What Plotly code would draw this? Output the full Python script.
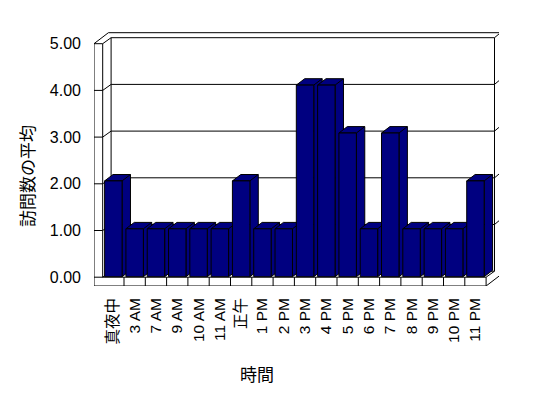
import plotly.graph_objects as go

# ---- data ----
categories = ["真夜中", "3 AM", "7 AM", "9 AM", "10 AM", "11 AM", "正午", "1 PM", "2 PM",
              "3 PM", "4 PM", "5 PM", "6 PM", "7 PM", "8 PM", "9 PM", "10 PM", "11 PM"]
values = [2, 1, 1, 1, 1, 1, 2, 1, 1, 4, 4, 3, 1, 3, 1, 1, 1, 2]
y_tick_values = [0, 1, 2, 3, 4, 5]
y_tick_labels = ["0.00", "1.00", "2.00", "3.00", "4.00", "5.00"]
x_title = "時間"
y_title = "訪問数の平均"

# ---- geometry (pixels, page coordinates) ----
PAGE_PAD = 8                      # default body margin of the html page
W, H = 548 - PAGE_PAD, 398 - PAGE_PAD
PL, PR, PT, PB = 94, 499, 32, 286  # plot area on the page
ML, MT = PL - PAGE_PAD, PT - PAGE_PAD
MR = W - (PR - PAGE_PAD)
MB = H - (PB - PAGE_PAD)
X_UNIT, X0_PX = 21.3, 113.35          # px per category, centre of first category
Y_UNIT, Y0_PX = 46.7, 277.2           # wall scale
BY_UNIT, BY0_PX = 47.9, 276.7         # bar scale (perspective of Excel 3-D)
n = len(categories)
idx = list(range(n))

x_range = [(PL - X0_PX) / X_UNIT, (PR - X0_PX) / X_UNIT]
y_range = [(Y0_PX - PB) / Y_UNIT, (Y0_PX - PT) / Y_UNIT]
y2_range = [(BY0_PX - PB) / BY_UNIT, (BY0_PX - PT) / BY_UNIT]

DX, DY = 8.4 / X_UNIT, 6.0 / Y_UNIT   # depth of the floor
TX, TY = 6.0 / X_UNIT, 5.0 / Y_UNIT   # thickness of back wall
BDX, BDY = 8.4 / X_UNIT, 6.4 / BY_UNIT
BAR_W = 0.82
YMAX = y_tick_values[-1]

XL_OUT = x_range[0]
XL_IN = -0.5
XR = n - 0.5
FB = y_range[0]

NAVY = "#000080"
FONT = "Liberation Sans, Arial, Noto Sans CJK JP, sans-serif"

shapes = []


def seg(x0, y0, x1, y1):
    shapes.append(dict(type="line", xref="x", yref="y", x0=x0, y0=y0, x1=x1, y1=y1,
                       line=dict(color="black", width=1), layer="below"))


# back wall face
shapes.append(dict(type="rect", xref="x", yref="y", x0=XL_IN + DX, y0=DY, x1=XR + DX, y1=YMAX + DY,
                   line=dict(color="black", width=1), fillcolor="white", layer="below"))
# left wall
seg(XL_OUT, FB, XL_OUT, YMAX)
seg(XL_IN, 0, XL_IN, YMAX)
seg(XL_OUT, YMAX, XL_IN, YMAX)
seg(XL_IN, YMAX, XL_IN + DX, YMAX + DY)
seg(XL_OUT, YMAX, XL_OUT + DX + TX, YMAX + DY + TY)
# top / right thickness of back wall
seg(XL_OUT + DX + TX, YMAX + DY + TY, XR + DX + TX, YMAX + DY + TY)
seg(XR + DX, YMAX + DY, XR + DX + TX, YMAX + DY + TY)
seg(XR + DX + TX, YMAX + DY + TY, XR + DX + TX, FB + DY + TY)
# floor
shapes.append(dict(type="rect", xref="x", yref="y", x0=XL_OUT, y0=FB, x1=XR, y1=0,
                   line=dict(color="black", width=1), fillcolor="white", layer="below"))
seg(XR, 0, XR + DX, DY)
seg(XR, FB, XR + DX + TX, FB + DY + TY)
# gridlines
for v in y_tick_values[1:-1]:
    seg(XL_IN + DX, v + DY, XR + DX, v + DY)
    seg(XL_OUT, v, XL_IN, v)
    seg(XR + DX, v + DY, XR + DX + TX, v + DY + TY)
for v in y_tick_values[:-1]:
    seg(XL_IN, v, XL_IN + DX, v + DY)
# category separators on floor front
for i in idx[:-1]:
    seg(i + 0.5, FB, i + 0.5, 0)

fig = go.Figure()

# side + top faces of the bars
for i, v in zip(idx, values):
    xl, xr = i - BAR_W / 2, i + BAR_W / 2
    xs = [xl, xl + BDX, xr + BDX, xr + BDX, xr, xr, xl, None, xr, xr + BDX]
    ys = [v, v + BDY, v + BDY, BDY, 0, v, v, None, v, v + BDY]
    fig.add_trace(go.Scatter(x=xs, y=ys, mode="lines", fill="toself", fillcolor=NAVY,
                             line=dict(color="black", width=1), yaxis="y2",
                             hoverinfo="skip", showlegend=False))

# front faces
fig.add_trace(go.Bar(x=idx, y=values, width=BAR_W, yaxis="y3",
                     marker=dict(color=NAVY, line=dict(color="black", width=1)),
                     showlegend=False))

pw, ph = PR - PL, PB - PT
fig.update_layout(
    width=W, height=H,
    margin=dict(l=ML, r=MR, t=MT, b=MB, pad=0, autoexpand=False),
    paper_bgcolor="white", plot_bgcolor="white",
    font=dict(family=FONT, color="black"),
    shapes=shapes,
    showlegend=False,
    xaxis=dict(range=x_range, tickvals=idx, ticktext=categories, tickangle=-90,
               tickfont=dict(size=15.5), showgrid=False, zeroline=False, showline=False,
               ticks="", ticklabelstandoff=8, fixedrange=True, automargin=False),
    yaxis=dict(range=y_range, tickvals=y_tick_values, ticktext=y_tick_labels,
               tickfont=dict(size=16), showgrid=False, zeroline=False, showline=False,
               ticks="", ticklabelstandoff=12, fixedrange=True, automargin=False),
    yaxis2=dict(range=y2_range, overlaying="y", visible=False, fixedrange=True),
    yaxis3=dict(range=y2_range, overlaying="y", visible=False, fixedrange=True),
    annotations=[
        dict(text=y_title, textangle=-90, xref="paper", yref="paper",
             x=(28 - PL) / pw, y=(PB - 176) / ph,
             showarrow=False, font=dict(size=17), xanchor="center", yanchor="middle"),
        dict(text=x_title, xref="paper", yref="paper",
             x=(257 - PL) / pw, y=(PB - 375) / ph,
             showarrow=False, font=dict(size=17), xanchor="center", yanchor="middle"),
    ],
)

fig.write_html("out.html")
